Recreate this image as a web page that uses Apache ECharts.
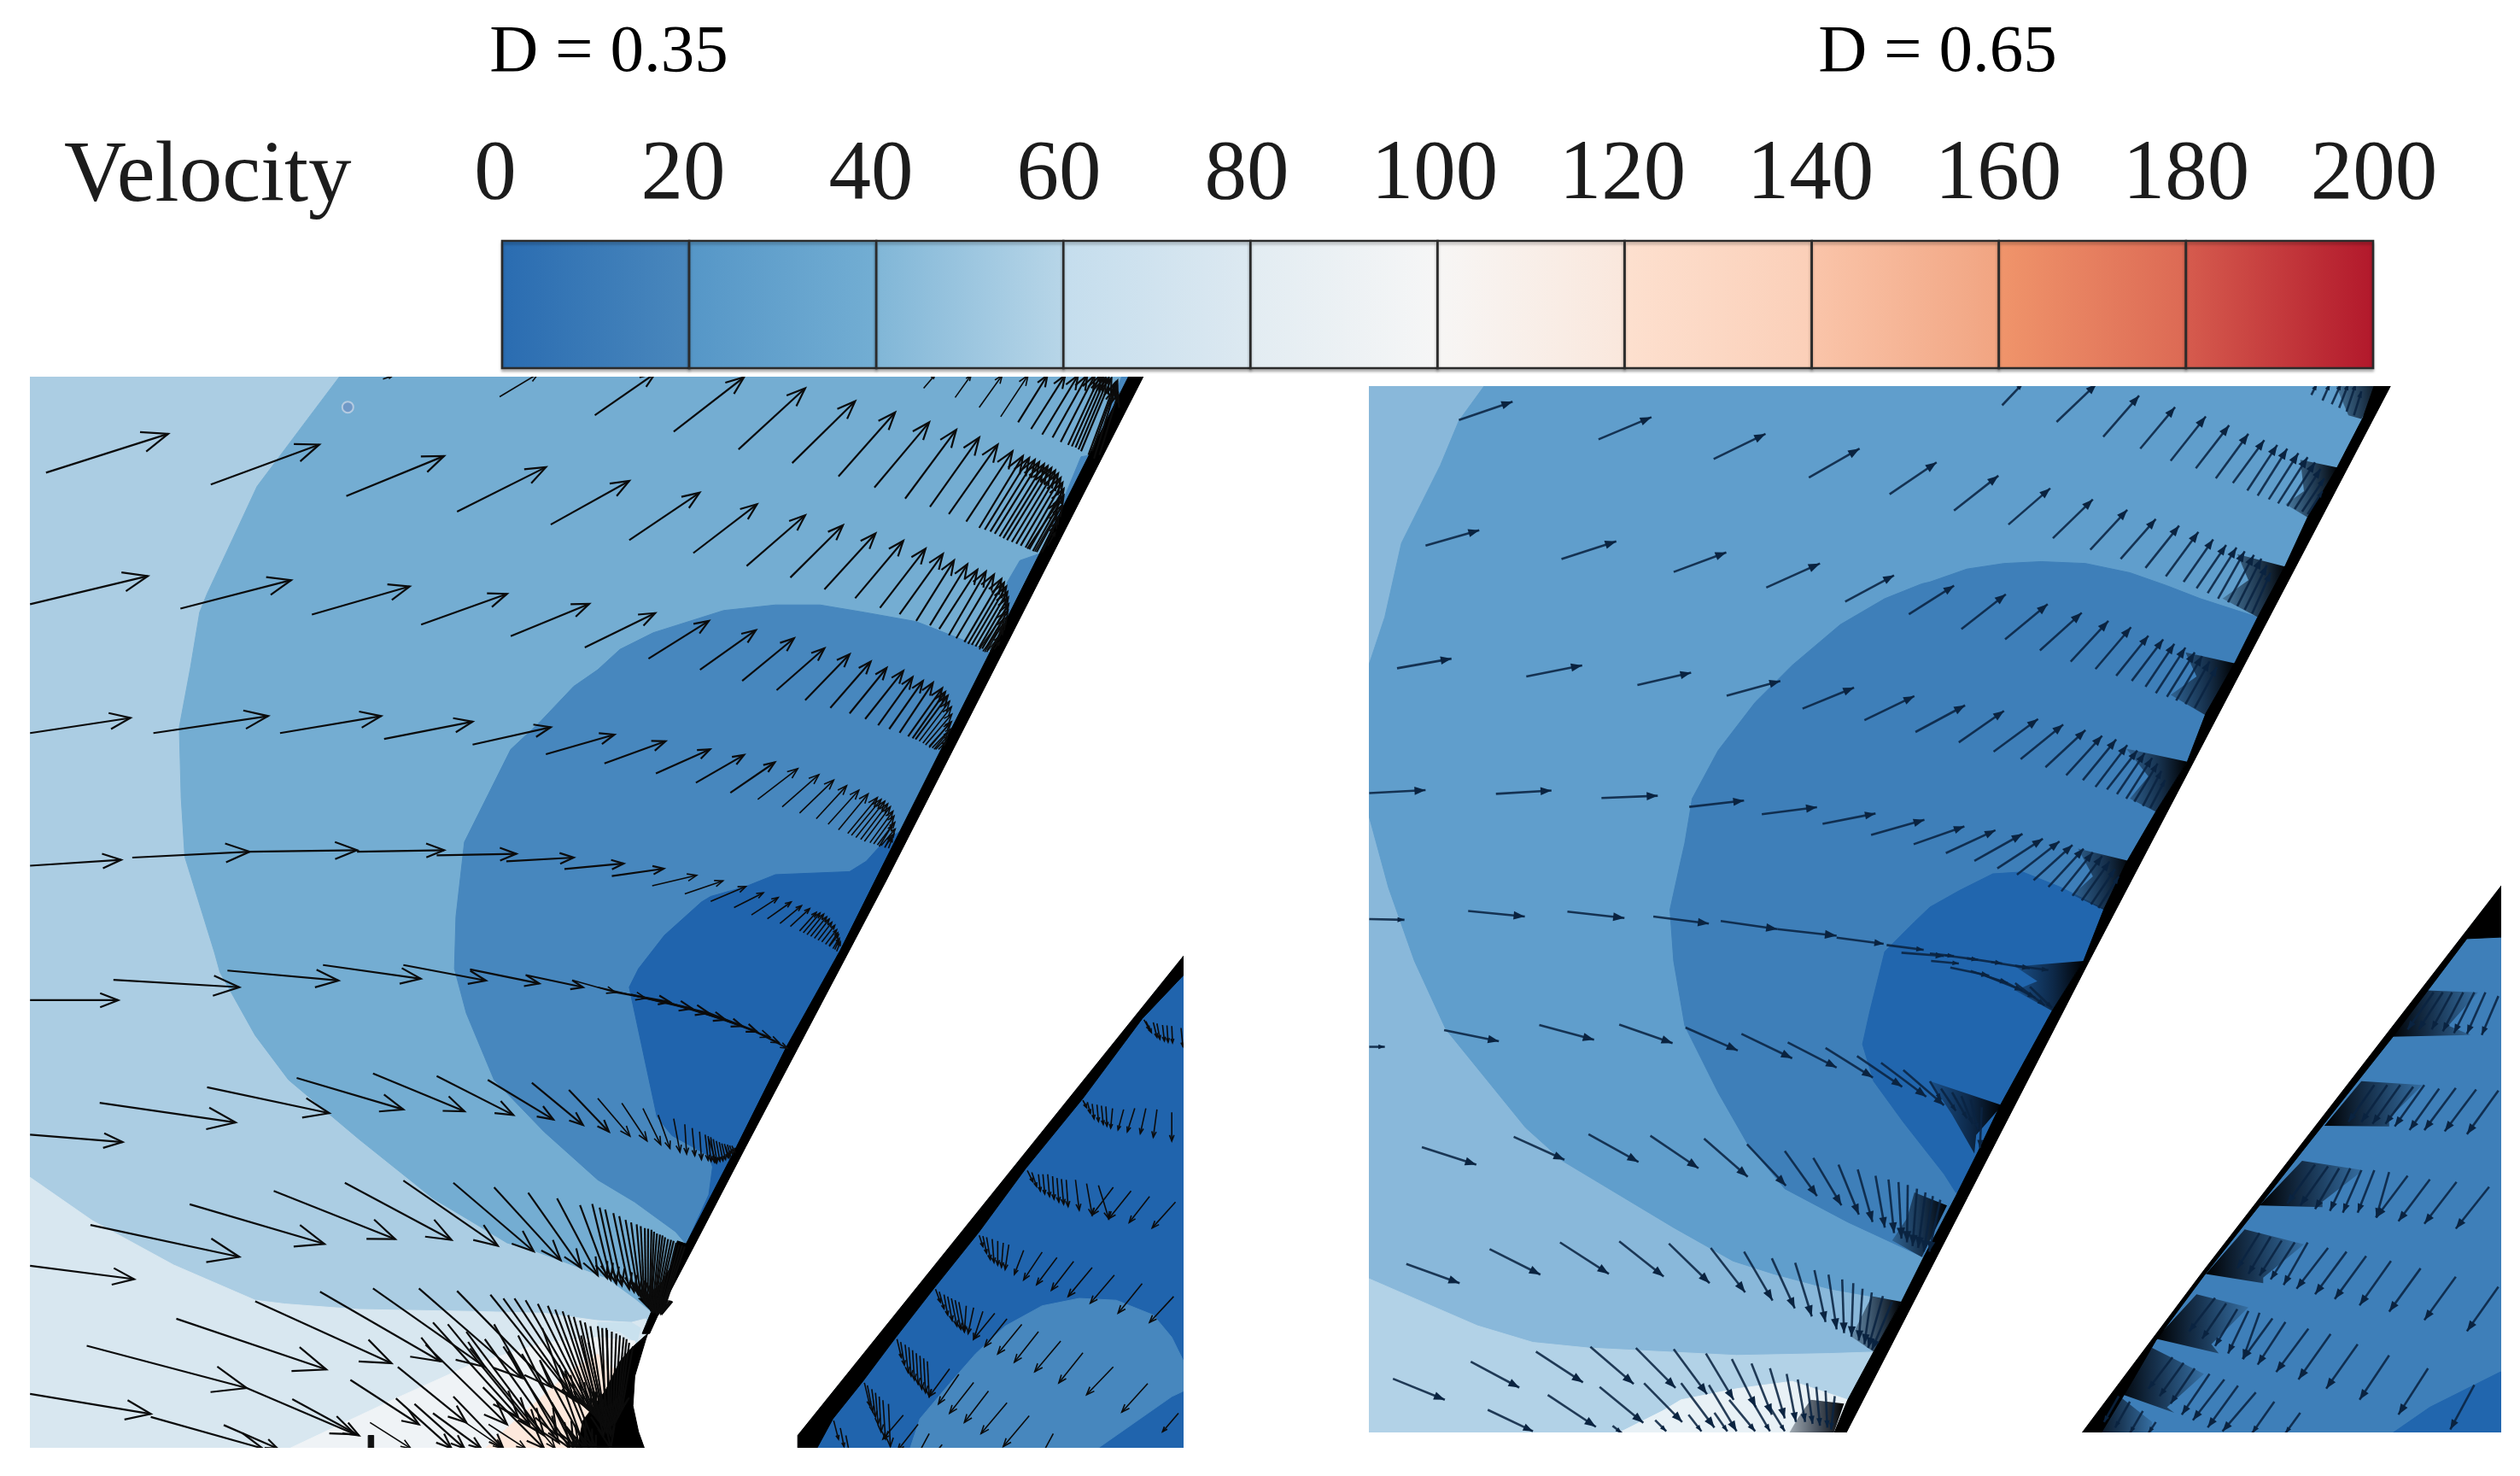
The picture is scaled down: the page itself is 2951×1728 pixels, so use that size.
<!DOCTYPE html>
<html><head><meta charset="utf-8">
<style>html,body{margin:0;padding:0;background:#fff}#c{width:2951px;height:1728px}</style>
<script src="https://cdn.jsdelivr.net/npm/echarts@6/dist/echarts.min.js"></script>
</head><body><div id="c"></div>
<script>
// ---------- colour bar values ----------
const barEdges=[0,20,40,60,80,100,120,140,160,180,200];
const barFrom=['#2a6cb1','#5596c7','#80b6d7','#c4dded','#e2ecf2','#f7f6f5','#fde0cf','#fac5aa','#f0956b','#d65c4e'];
const barTo  =['#4a88bd','#73aed3','#b8d6e8','#dde9f1','#f6f6f6','#fae7dc','#fbcfb8','#f1a481','#dc6954','#b2182b'];
const tickLabels=['0','20','40','60','80','100','120','140','160','180','200'];
const panelTitles=['D = 0.35','D = 0.65'];
const legendTitle='Velocity';
const U=680/1568;
const LA=[30,435],LB=[700,435],LC=[30,1030],LD=[700,1030];
const RA=[1600,445],RB=[2260,445],RC=[1600,1010],RD=[2260,1010];
const P=(o,l)=>l.map(p=>[o[0]+p[0]*U,o[1]+p[1]*U]);
const V=(o,l)=>l.map(a=>[o[0]+a[0]*U,o[1]+a[1]*U,o[0]+a[2]*U,o[1]+a[3]*U]);
// ---------- left panel velocity bands ----------
const lBand2=[...P(LA,[[858,0],[760,130],[625,310],[560,450],[490,600],[470,650],[445,800],[415,960],[420,1150],[430,1310],[510,1568]]),
 ...P(LC,[[525,250],[620,420],[710,540],[900,700],[1100,860],[1300,980],[1370,1000]]),
 ...P(LD,[[25,1075],[100,1130],[150,1170],[900,1170]]),...P(LB,[[1600,0]])];
const lBand3=[...P(LB,[[0,805],[60,750],[150,705],[340,645],[480,630],[600,630],[720,650],[860,675],[1000,730],[1062,760],[1200,760]]),
 ...P(LD,[[300,985],[240,985],[210,950],[100,870],[0,810]]),
 ...P(LC,[[1400,680],[1265,540],[1190,360],[1158,240],[1162,100]]),
 ...P(LA,[[1185,1270],[1250,1140],[1310,1020],[1385,950],[1480,850],[1545,805]])];
const lStrip=P(LB,[[1420,0],[1335,225],[1305,230],[1198,490],[1140,510],[1105,570],[1100,670],[1062,760],[1200,760],[1500,0]]);
const lBand4=[...P(LD,[[85,290],[110,240],[180,150],[280,60],[305,45],[400,18],[480,-14],[680,-22],[725,-50],[770,-100],[815,-130],[920,-130],[960,-372],[1000,-372]]),
 ...P(LD,[[1000,-372],[300,985],[245,970],[300,850],[310,775],[300,745],[200,690],[160,640]])];
const lBand1=[...P(LC,[[0,795],[180,920],[400,1040],[620,1135],[700,1145],[900,1160],[1200,1165],[1400,1170]]),
 ...P(LD,[[0,1190],[90,1195],[130,1185],[130,1560]]),...P(LC,[[0,1560]])];
const lSky=P(LD,[[0,1195],[90,1195],[115,1210],[105,1250],[60,1220],[0,1210]]);
const lBand0=[...P(LC,[[660,1560],[830,1480],[1000,1400],[1200,1310],[1400,1250]]),...P(LD,[[0,1235],[100,1245],[130,1560]])];
const lPeach=[...P(LC,[[1215,1560],[1300,1480],[1400,1390],[1480,1320]]),...P(LD,[[0,1280],[130,1400],[130,1560]])];
const lLowerBase=P(LD,[[1700,0],[1700,1600],[400,1600]]);
const lPatch=P(LD,[[835,1560],[870,1455],[950,1360],[1020,1280],[1100,1205],[1200,1150],[1300,1130],[1400,1135],[1500,1175],[1550,1235],[1582,1300],[1582,1380],[1550,1395],[1350,1535],[1310,1560]]);
const lSlot=[...P(LB,[[1485,-20],[1700,-20]]),...P(LD,[[1700,80],[1582,205],[540,1500],[540,1560],[135,1560],[110,1490],[95,1420],[100,1340],[130,1240],[165,1170],[262,985],[400,720],[540,455],[780,0]])];
const lWallUp=[...P(LB,[[1440,0],[1480,0]]),...P(LD,[[780,0],[540,455],[400,720],[262,985],[165,1170],[140,1225],[120,1225],[145,1165],[240,980],[375,720],[510,450],[655,190],[750,0]])];
const lWallLow=P(LD,[[1600,183],[1600,238],[1470,375],[1310,590],[1155,780],[1030,950],[910,1100],[805,1235],[715,1355],[635,1455],[578,1560],[540,1560],[540,1500]]);
const lFanBlack=P(LD,[[245,985],[215,975],[200,1040],[170,1090],[130,1130],[110,1130],[145,1165],[165,1165]]);
const lNose=P(LD,[[135,1225],[90,1265],[60,1300],[20,1380],[-40,1460],[-60,1560],[135,1560],[110,1490],[95,1420],[100,1340],[130,1240]]);
const lChip=P(LC,[[925,1500],[940,1500],[940,1560],[925,1560]]);
const lMark=[P(LA,[[870,96]])[0]];
// ---------- left panel vectors (tail x, tail y, head x, head y) ----------
const lRow0=V(LA,[[965,20,990,12],[1280,68,1385,5],[1537,118,1700,5]]);
const lRow1=V(LB,[[880,45,910,10],[965,70,1008,10],[1030,97,1092,10],[1088,122,1162,10],[1135,137,1214,10],[1170,155,1262,10],[1200,170,1297,10],[1228,178,1322,10],[1250,190,1342,10],[1270,198,1357,10],[1290,205,1372,15],[1305,215,1387,18],[1325,225,1397,30],[1335,215,1403,25],[1340,235,1400,40],[1355,225,1405,60],[1280,202,1365,12],[1298,210,1380,16],
 [205,162,395,15],[380,210,560,45],[525,247,695,80],[650,283,803,110],[747,313,895,137],[830,343,968,157],[897,365,1030,178],[948,385,1080,197],[995,405,1120,215],[1030,422,1148,228],[1060,432,1180,238],[1085,445,1205,250],[1105,455,1225,260],[1130,465,1243,275],[1155,475,1255,300],[1175,485,1258,335],[1195,490,1245,390],[1205,480,1230,420],
 [1045,427,1165,233],[1072,438,1192,244],[1095,450,1215,255],[1118,460,1235,267],[1142,470,1250,287],[1165,480,1258,317],[1185,487,1253,362],[1200,488,1240,405],[1215,470,1235,435],[1160,478,1245,350],[1180,486,1240,380]]);
const lRow2a=V(LA,[[55,273,385,168],[500,305,793,197],[866,336,1130,228],[1165,378,1405,258],[1418,413,1630,295]]);
const lRow2b=V(LB,[[85,455,275,327],[258,490,430,358],[402,525,560,388],[520,556,662,415],[612,588,750,437],[695,612,825,457],[762,638,885,478],[815,655,932,492],[860,673,962,510],[897,685,998,520],[922,695,1025,535],[948,712,1048,540],[968,720,1070,548],[990,730,1090,560],[1010,738,1103,580],[1030,745,1108,610],[1045,750,1108,645],[1060,755,1100,680],[1065,745,1085,715],
 [1000,735,1097,570],[1020,742,1106,595],[1038,748,1109,628],[1052,752,1105,662],[1062,752,1095,698],[1040,755,1090,690],[1050,757,1080,720],[1070,750,1085,730],[1030,750,1100,650],[1045,757,1095,670]]);
const lRow3a=V(LA,[[12,628,330,552],[418,640,717,563],[773,656,1037,580],[1068,683,1300,600],[1310,714,1522,627]]);
const lRow3b=V(LB,[[-35,745,155,652],[137,775,300,673],[276,805,427,698],[390,835,530,720],[483,860,612,747],[560,887,680,763],[628,908,737,783],[680,923,780,800],[722,938,825,808],[757,955,850,825],[787,965,878,835],[815,975,905,840],[838,985,930,855],[858,993,945,875],[878,1003,955,905],[895,1012,955,945],[912,1020,945,985],
 [868,998,950,890],[885,1008,956,925],[903,1016,952,965],[920,1020,940,1000],[850,990,938,865],[895,1015,950,950],[908,1020,945,975]]);
const lRow4a=V(LA,[[12,976,283,935],[345,976,655,930],[687,976,960,930],[968,992,1207,945],[1207,1007,1418,960]]);
const lRow4b=V(LB,[[-140,1033,45,980],[18,1058,183,998],[157,1085,303,1020],[265,1110,395,1035],[358,1137,478,1055],[432,1155,540,1072],[498,1175,597,1088],[545,1192,637,1103],[590,1207,672,1118],[622,1222,705,1130],[650,1237,730,1140],[675,1247,755,1150],[697,1258,775,1160],[720,1268,790,1175],[745,1275,800,1200],[765,1280,803,1235],[785,1287,795,1260],
 [735,1272,797,1187],[755,1278,802,1217],[775,1284,800,1248],[710,1263,783,1167],[685,1252,765,1155],[760,1282,795,1225],[775,1285,790,1255]]);
const lRow5a=V(LA,[[12,1334,258,1318],[288,1312,605,1296],[605,1296,895,1292],[895,1296,1130,1292],[1110,1306,1325,1302],[1298,1322,1480,1312]]);
const lRow5b=V(LB,[[-90,1343,70,1328],[38,1362,178,1342],[147,1388,267,1360],[235,1410,338,1375],[305,1430,400,1390],[368,1447,447,1407],[415,1467,487,1420],[458,1477,522,1432],[492,1490,550,1442],[520,1498,572,1450],[545,1510,590,1460],[565,1520,610,1465],[585,1530,625,1478],[605,1540,640,1495],[625,1552,650,1520],[645,1565,655,1540],
 [595,1535,632,1487],[615,1546,645,1507],[635,1558,652,1530],[575,1525,618,1472],[555,1515,600,1462],[625,1550,648,1515],[640,1560,652,1535]]);
const lRow6a=V(LC,[[12,325,250,325],[237,270,577,290],[545,245,845,272],[803,230,1067,267],[1020,230,1243,272],[1200,242,1387,280],[1350,257,1505,290]]);
const lRow6b=V(LD,[[-65,272,48,304],[0,290,130,320],[45,303,195,330],[90,310,255,348],[130,320,300,360],[195,333,345,378],[255,350,390,395],[300,360,430,410],[345,380,465,425],[390,395,490,440],[430,412,512,455]]);
const lRow7a=V(LC,[[12,688,262,708],[200,602,567,655],[490,560,820,630],[732,535,1020,620],[938,523,1185,625],[1110,530,1317,635],[1248,540,1425,647],[1367,548,1505,662],[1467,567,1575,680]]);
const lRow7b=V(LD,[[0,590,87,692],[65,603,133,705],[122,617,170,715],[163,635,195,725],[205,645,222,735],[235,660,240,740],[255,670,262,745],[275,680,280,755],[290,688,298,757],[305,695,315,762],[320,705,330,760],[335,712,345,755],[350,715,358,745],[362,718,370,735],
 [298,692,306,760],[312,700,322,762],[328,708,338,758],[342,713,352,750],[356,717,364,740],[300,700,320,765],[345,720,355,750]]);
const lRow8a=V(LC,[[12,1042,293,1078],[175,932,577,1018],[443,876,807,983],[670,840,998,970],[862,818,1150,972],[1020,812,1275,988],[1155,818,1372,1003],[1265,830,1445,1027],[1357,845,1500,1048],[1435,860,1545,1068],[1497,878,1570,1075],[1530,875,1580,1080]]);
const lRow8b=V(LD,[[5,885,50,1090],[42,900,85,1105],[75,918,110,1120],[105,930,122,1130],[127,940,130,1145],[145,945,140,1150],[160,955,143,1160],[175,960,150,1165],[190,970,155,1165],[205,975,160,1170],[220,985,170,1170],[235,990,175,1170],
 [20,890,65,1095],[58,908,98,1112],[90,925,116,1125],[116,935,126,1138],[136,942,135,1148],[152,950,142,1155],[168,958,147,1162],[182,965,152,1165],[198,972,158,1168],[212,980,165,1170],[228,987,172,1170]]);
const lRow9=V(LC,[[12,1388,338,1442],[165,1258,597,1372],[407,1185,812,1322],[620,1138,988,1305],[795,1112,1120,1300],[938,1103,1240,1315],[1062,1103,1340,1345],[1165,1110,1420,1370],[1255,1120,1480,1400],[1320,1130,1510,1420],[1383,1145,1530,1440],[1430,1160,1540,1450],[1465,1175,1555,1470],[1497,1190,1565,1480],[1525,1205,1570,1490],[1545,1205,1575,1490],[1568,1210,1580,1500],
 [1290,1130,1490,1410],[1350,1135,1520,1430],[1410,1150,1535,1445],[1450,1165,1548,1460],[1480,1180,1560,1475],[1510,1195,1568,1485]]);
const lRow9b=V(LD,[[25,1215,30,1480],[50,1225,40,1470],[70,1235,50,1460],[85,1250,60,1440],[12,1210,22,1490],[38,1220,35,1475],[60,1230,45,1465],[78,1240,55,1450],[95,1260,65,1430]]);
const lRow10=V(LC,[[338,1450,640,1535],[597,1372,890,1497],[535,1472,680,1535],[720,1402,900,1500],[877,1350,1062,1470],[930,1465,1040,1535],[1005,1315,1190,1465],[1050,1415,1185,1535],[1155,1395,1290,1535],[1080,1255,1300,1470],[1200,1265,1385,1490],[1235,1370,1400,1535],[1265,1200,1435,1500],[1330,1230,1480,1535],[1395,1210,1510,1535],
 [1100,1195,1330,1450],[1140,1200,1360,1470],[1190,1220,1400,1500],[1240,1240,1440,1520],[1290,1260,1470,1535],[1340,1280,1495,1535],[1390,1300,1515,1535],[1440,1310,1530,1535],[1000,1400,1150,1535],[1100,1440,1230,1535],[1180,1460,1290,1535],[1250,1470,1350,1535],[1350,1440,1430,1535],[1420,1410,1490,1535],[1480,1380,1540,1535],[1520,1250,1580,1535],[1500,1230,1560,1500]]);
const lLow1=V(LD,[[1475,378,1490,405],[1500,385,1510,425],[1525,392,1530,435],[1550,395,1552,440],[1575,400,1580,450],[1480,382,1495,412],[1510,388,1518,430],[1537,393,1540,438]]);
const lLow2=V(LD,[[1310,595,1320,615],[1335,605,1340,645],[1360,610,1365,660],[1390,617,1385,670],[1420,620,1405,675],[1450,617,1430,680],[1480,617,1465,685],[1510,620,1500,695],[1550,628,1550,705],[1322,600,1330,630],[1348,607,1352,652],[1372,612,1375,665]]);
const lLow3=V(LD,[[1160,785,1175,815],[1190,795,1195,840],[1215,795,1220,855],[1240,805,1245,870],[1265,810,1270,882],[1290,810,1300,892],[1320,820,1335,905],[1352,825,1380,915],[1392,830,1335,905],[1440,840,1380,915],[1490,855,1435,925],[1560,870,1497,940],[1172,790,1185,828],[1202,795,1207,848],[1228,800,1232,862],[1252,808,1258,876]]);
const lLow4=V(LD,[[1030,960,1040,990],[1050,965,1060,1025],[1080,975,1080,1040],[1110,985,1100,1052],[1150,1000,1125,1065],[1200,1005,1150,1080],[1240,1020,1185,1093],[1285,1030,1225,1108],[1335,1047,1270,1125],[1395,1067,1330,1143],[1470,1090,1405,1170],[1555,1125,1490,1195],[1040,962,1050,1008],[1065,970,1070,1033],[1095,980,1090,1046]]);
const lLow5=V(LD,[[912,1105,925,1140],[935,1120,945,1175],[955,1130,970,1205],[975,1140,990,1220],[1072,1170,1015,1240],[1105,1185,1045,1260],[1145,1200,1080,1280],[1190,1220,1125,1302],[1250,1245,1180,1328],[1310,1277,1245,1358],[1392,1315,1320,1390],[1485,1360,1415,1437],[995,1150,990,1220],[1015,1155,1000,1225],[1040,1165,1015,1240],[922,1112,935,1158],[945,1125,957,1190],[965,1135,980,1213]]);
const lLow6=V(LD,[[808,1240,820,1290],[830,1255,838,1330],[850,1270,855,1350],[870,1285,875,1375],[890,1300,895,1395],[950,1320,895,1395],[975,1335,920,1415],[1015,1357,950,1440],[1055,1380,990,1465],[1105,1412,1035,1495],[1165,1447,1095,1530],[1230,1495,1195,1560],[1568,1440,1525,1490],[818,1248,828,1310],[840,1262,846,1340],[860,1278,865,1362],[880,1292,885,1385]]);
const lLow7=V(LD,[[720,1358,735,1420],[740,1375,750,1450],[760,1395,765,1490],[785,1415,790,1530],[825,1445,770,1510],[865,1470,810,1540],[895,1495,860,1560],[930,1525,900,1560],[637,1460,650,1510],[655,1480,665,1530],[670,1500,680,1550],[728,1365,742,1435],[750,1385,757,1470],[770,1405,777,1510]]);
const leftRegions=[
 {p:lBand2,c:'#74add2'},{p:lBand3,c:'#4787be'},{p:lStrip,c:'#4787be'},{p:lBand4,c:'#2064ad'},{p:lBand1,c:'#d8e7f0'},{p:lSky,c:'#c9e1ee'},{p:lBand0,c:'#eff3f6'},{p:lPeach,c:'#fde8dc'},
 {p:lLowerBase,c:'#2064ad'},{p:lPatch,c:'#4787be'},{p:lSlot,c:'#ffffff'},{p:lWallUp,c:'#000'},{p:lWallLow,c:'#000'},{p:lFanBlack,c:'#000'},{p:lNose,c:'#000'},{p:lChip,c:'#111'}];
const leftArrows=[...lRow0,...lRow1,...lRow2a,...lRow2b,...lRow3a,...lRow3b,...lRow4a,...lRow4b,...lRow5a,...lRow5b,...lRow6a,...lRow6b,...lRow7a,...lRow7b,...lRow8a,...lRow8b,...lRow9,...lRow9b,...lRow10,...lLow1,...lLow2,...lLow3,...lLow4,...lLow5,...lLow6,...lLow7];
// ---------- right panel velocity bands ----------
const rBand2=[...P(RA,[[330,0],[250,110],[200,230],[95,440],[50,640],[0,790],[0,1150],[60,1370],[130,1568]]),
 ...P(RC,[[215,450],[430,715],[530,805],[830,985],[990,1075],[1100,1110],[1250,1150],[1445,1185],[1700,1185]]),...P(RB,[[1400,0]])];
const rBand1=[...P(RC,[[0,1120],[150,1185],[300,1250],[450,1295],[600,1310],[800,1320],[1000,1330],[1250,1325],[1400,1320],[1400,1560],[0,1560]])];
const rBand0=P(RC,[[640,1560],[800,1480],[850,1450],[1000,1420],[1150,1400],[1300,1450],[1300,1560]]);
const rBand3=[...P(RB,[[0,545],[100,510],[200,495],[300,490],[420,495],[540,520],[640,555],[730,590],[885,640],[1000,640]]),
 ...P(RC,[[1700,1090],[1505,1065],[1300,970],[1130,880],[1030,760],[950,620],[860,440],[830,265],[820,127],[848,0]]),
 ...P(RA,[[860,1250],[880,1130],[950,1000],[1050,870],[1150,770],[1280,660],[1400,590],[1500,550]])];
const rBand4=[...P(RD,[[0,120],[80,75],[170,30],[250,25],[350,65],[470,125],[560,125],[160,900],[70,890],[38,840]]),
 ...P(RC,[[1450,700],[1370,590],[1340,490],[1360,400],[1400,240],[1480,160]])];
const rLowerBase=P(RD,[[1700,-100],[1700,1600],[300,1600]]);
const rPatch=P(RD,[[1220,1560],[1350,1470],[1540,1375],[1700,1375],[1700,1560]]);
const rSlot=[...P(RB,[[1260,-20],[1700,-20]]),...P(RD,[[1700,-100],[1550,52],[1130,596],[880,919],[740,1100],[400,1560]]),...P(RC,[[1285,1560],[1522,1085]]),...P(RB,[[430,1568]])];
const rWallUp=[...P(RB,[[1205,0],[1252,0],[430,1568]]),...P(RC,[[1285,1560],[1255,1560],[1300,1450],[1370,1320],[1445,1185],[1505,1065]]),...P(RD,[[70,900],[130,780],[190,655],[330,400],[415,265],[470,125],[530,0]]),...P(RB,[[610,1165],[695,1030],[745,900],[825,760],[885,640],[960,500],[1020,370],[1100,235],[1170,100]])];
const rWallLow=P(RD,[[1560,40],[1560,200],[1450,205],[1250,470],[1060,710],[890,925],[740,1115],[610,1290],[540,1410],[450,1560],[395,1560],[740,1100],[880,919],[1130,596]]);
const rFansUp=[
 P(RB,[[1090,0],[1230,0],[1165,105],[1130,95]]),P(RB,[[1000,215],[1105,237],[1022,372],[960,335],[1010,300]]),P(RB,[[830,470],[965,505],[885,640],[790,590],[860,540]]),
 P(RB,[[690,735],[825,765],[745,905],[650,850],[720,800]]),P(RB,[[530,995],[695,1030],[610,1165],[540,1130],[590,1070]]),P(RB,[[400,1265],[545,1300],[470,1430],[385,1390],[440,1340]]),
 P(RD,[[230,280],[415,265],[330,400],[230,345],[290,320]]),P(RD,[[0,590],[195,655],[125,735],[120,785],[60,680]]),
 P(RC,[[1480,890],[1568,925],[1500,1065],[1420,1020],[1460,960]]),P(RC,[[1365,1170],[1445,1185],[1370,1320],[1310,1280],[1340,1220]]),P(RC,[[1200,1450],[1290,1460],[1255,1560],[1130,1560],[1165,1500]])];
const rFansLow=[
 P(RD,[[1340,345],[1480,350],[1400,440],[1460,465],[1245,470]]),P(RD,[[1165,590],[1330,600],[1240,690],[1240,712],[1065,710]]),P(RD,[[1005,805],[1170,830],[1060,915],[1060,930],[890,925]]),
 P(RD,[[850,990],[1010,1030],[900,1120],[900,1135],[745,1110]]),P(RD,[[720,1165],[860,1200],[760,1300],[780,1325],[610,1285]]),P(RD,[[600,1310],[740,1380],[640,1470],[660,1485],[505,1430]]),P(RD,[[505,1435],[600,1510],[600,1560],[425,1560]])];
// ---------- right panel vectors ----------
const rRow0=V(RB,[[195,68,250,10],[342,113,450,10],[468,153,565,42],[568,185,662,73],[650,218,745,98],[718,238,808,122],[772,265,860,145],[818,278,903,162],[857,298,938,175],[885,312,965,185],[915,322,995,197],[940,333,1020,208],[965,340,1040,222],[985,348,1055,240],[1005,355,1065,265],[1020,362,1060,300],
 [1030,40,1045,10],[1060,55,1080,10],[1085,65,1110,10],[1105,75,1130,10],[1125,85,1150,10],[1145,95,1165,30]]);
const rRow1a=V(RA,[[250,108,395,58],[627,160,770,100],[938,213,1078,145],[1195,263,1332,185],[1413,308,1540,222]]);
const rRow1b=V(RB,[[65,352,185,258],[212,390,325,292],[332,427,440,322],[433,458,533,350],[515,483,610,375],[582,507,673,393],[637,530,725,410],[685,545,765,430],[720,562,800,445],[750,575,828,452],[778,590,850,462],[805,600,875,472],[830,610,895,482],[850,620,910,500],[870,630,920,520]]);
const rRow2a=V(RA,[[160,447,305,405],[527,483,675,435],[830,518,972,465],[1080,560,1225,495],[1293,598,1425,527],[1465,632,1587,555]]);
const rRow2b=V(RB,[[85,672,205,578],[203,700,318,605],[297,730,410,628],[380,760,482,650],[447,780,543,667],[503,798,590,690],[545,812,630,700],[582,828,660,712],[610,845,690,722],[640,855,715,735],[665,865,735,745],[690,875,755,760],[715,885,775,775]]);
const rRow3a=V(RA,[[83,778,230,752],[432,800,583,770],[732,823,877,790],[973,852,1118,812],[1178,887,1317,830],[1345,918,1480,853]]);
const rRow3b=V(RB,[[-39,950,95,878],[78,978,200,893],[172,1003,292,915],[245,1023,360,930],[312,1045,420,945],[368,1067,465,960],[413,1080,503,970],[447,1098,533,985],[478,1105,560,1000],[505,1118,580,1007],[530,1130,600,1020],[552,1138,615,1035],[575,1150,625,1055],[595,1155,635,1080]]);
const rRow4a=V(RA,[[8,1115,160,1107],[350,1117,500,1108],[635,1128,787,1122],[872,1152,1020,1135],[1068,1172,1217,1153],[1232,1198,1375,1170],[1363,1228,1507,1187],[1478,1253,1615,1205]]);
const rRow4b=V(RB,[[43,1277,177,1215],[120,1298,250,1225],[182,1318,305,1238],[235,1335,350,1245],[280,1350,385,1255],[320,1368,415,1265],[355,1380,440,1275],[385,1392,465,1285],[410,1405,485,1300],[435,1415,500,1320],[455,1425,510,1340]]);
const rRow5a=V(RA,[[8,1455,103,1457],[275,1433,428,1448],[543,1435,697,1452],[775,1448,925,1467],[957,1460,1110,1482],[1110,1482,1270,1500],[1270,1505,1397,1522],[1405,1525,1505,1538]]);
const rRow5b=V(RD,[[0,245,65,252],[40,250,130,262],[100,258,195,272],[165,268,270,285],[230,278,320,290],[55,283,160,305],[110,292,210,325],[150,305,250,345],[190,315,285,365],[230,325,310,385],[270,335,330,392]]);
const rRow5c=V(RC,[[1445,243,1560,252],[1525,265,1600,272]]);
const rRow6a=V(RC,[[8,497,50,497],[210,452,358,482],[467,438,615,478],[683,437,827,487],[862,445,1003,507],[1013,462,1150,528],[1138,485,1270,553],[1240,500,1368,580],[1325,522,1447,605],[1390,540,1512,632],[1450,560,1560,655]]);
const rRow6b=V(RD,[[0,590,30,640],[30,610,70,670],[60,620,100,690],[85,630,115,705],[110,640,130,720],[140,660,135,770]]);
const rRow7=V(RC,[[150,768,297,815],[398,740,535,802],[600,733,735,808],[767,737,897,825],[912,745,1030,848],[1028,760,1133,872],[1130,778,1217,900],[1207,797,1283,925],[1275,815,1330,950],[1327,828,1367,970],[1375,845,1400,985],[1410,855,1425,1000],[1437,862,1445,1015],[1462,870,1460,1025],[1487,880,1475,1035],[1510,890,1490,1040],[1530,900,1505,1050],[1550,910,1520,1050]]);
const rRow8=V(RC,[[108,1083,252,1135],[333,1043,470,1112],[523,1025,655,1110],[683,1022,803,1117],[817,1028,927,1135],[930,1040,1023,1160],[1020,1050,1097,1182],[1095,1068,1157,1203],[1158,1080,1203,1225],[1210,1100,1240,1240],[1248,1112,1270,1260],[1285,1125,1290,1270],[1315,1135,1310,1280],[1340,1150,1330,1290],[1365,1160,1345,1300],[1395,1170,1355,1310],[1420,1185,1365,1315]]);
const rRow9=V(RC,[[72,1393,212,1450],[282,1347,413,1417],[458,1320,585,1403],[605,1307,722,1407],[728,1310,835,1418],[830,1313,920,1435],[917,1325,992,1450],[987,1340,1052,1470],[1040,1352,1095,1490],[1090,1365,1130,1500],[1135,1380,1160,1510],[1165,1395,1185,1510],[1190,1405,1205,1515],[1215,1415,1225,1520],[1240,1425,1245,1525],[1265,1440,1255,1530]]);
const rRow10=V(RC,[[328,1477,450,1535],[490,1437,620,1523],[630,1415,748,1512],[750,1405,853,1510],[850,1405,940,1525],[925,1410,1000,1535],[980,1450,1050,1535],[1040,1450,1090,1535],[1090,1470,1130,1535],[780,1505,810,1535],[870,1490,905,1535],[665,1520,690,1540],[940,1485,975,1535]]);
const rLow1=V(RD,[[1360,350,1290,450],[1385,350,1320,450],[1410,350,1355,450],[1440,350,1385,455],[1470,350,1415,460],[1500,350,1450,462],[1535,360,1490,465]]);
const rLow2=V(RD,[[1200,600,1130,700],[1235,600,1165,700],[1270,600,1195,705],[1305,605,1230,705],[1335,600,1255,712],[1375,610,1295,722],[1420,608,1335,722],[1475,612,1390,725],[1535,615,1450,733]]);
const rLow3=V(RD,[[1040,815,965,920],[1075,820,1000,925],[1105,825,1040,935],[1135,825,1080,940],[1165,830,1115,945],[1200,830,1155,945],[1240,835,1205,958],[1290,845,1205,958],[1350,855,1265,968],[1422,862,1335,975],[1510,875,1420,988]]);
const rLow4=V(RD,[[890,1000,830,1095],[920,1010,860,1110],[950,1020,890,1115],[985,1025,920,1125],[1020,1025,955,1140],[1075,1040,990,1150],[1125,1050,1040,1165],[1178,1062,1093,1178],[1245,1075,1160,1195],[1325,1095,1240,1212],[1420,1118,1335,1235],[1535,1145,1450,1265]]);
const rLow5=V(RD,[[770,1175,700,1265],[800,1190,735,1285],[830,1205,770,1305],[860,1210,805,1325],[890,1215,845,1340],[925,1230,845,1340],[960,1240,885,1355],[1022,1258,935,1375],[1082,1272,995,1395],[1155,1300,1070,1420],[1240,1330,1160,1450],[1345,1365,1265,1490],[1470,1410,1405,1530]]);
const rLow6=V(RD,[[655,1335,590,1420],[685,1350,620,1440],[715,1365,650,1460],[755,1380,680,1490],[795,1395,710,1505],[832,1412,750,1525],[880,1430,790,1535],[930,1455,870,1540],[1000,1485,960,1540]]);
const rLow7=V(RD,[[510,1440,470,1510],[540,1455,500,1525],[575,1480,540,1540],[610,1510,590,1540]]);
const rightRegions=[{p:rBand2,c:'#609ecc'},{p:rBand1,c:'#b2d2e7'},{p:rBand0,c:'#e8f1f6'},{p:rBand3,c:'#3e7fb9'},{p:rBand4,c:'#2166ae'},{p:rLowerBase,c:'#3e7fb9'},{p:rPatch,c:'#2166ae'},{p:rSlot,c:'#ffffff'}];
const rightTop=[{p:rWallUp,c:'#000'},{p:rWallLow,c:'#000'}];
const rightArrows=[...rRow0,...rRow1a,...rRow1b,...rRow2a,...rRow2b,...rRow3a,...rRow3b,...rRow4a,...rRow4b,...rRow5a,...rRow5b,...rRow5c,...rRow6a,...rRow6b,...rRow7,...rRow8,...rRow9,...rRow10,...rLow1,...rLow2,...rLow3,...rLow4,...rLow5,...rLow6,...rLow7];

// ---------- drawing ----------
const chart=echarts.init(document.getElementById('c'),null,{renderer:'canvas'});
const polygonItem=(list)=>(params,api)=>{
  const r=list[api.value(0)];
  return {type:'polygon',shape:{points:r.p.map(q=>api.coord(q))},style:{fill:r.c,stroke:r.c,lineWidth:1}};
};
const regionSeries=(list,x,z)=>({type:'custom',xAxisIndex:x,yAxisIndex:x,clip:true,silent:true,z,
  data:list.map((r,i)=>[i,0]),encode:{x:-1,y:-1},renderItem:polygonItem(list)});
function openArrow(params,api){
  const a=api.coord([api.value(0),api.value(1)]),b=api.coord([api.value(2),api.value(3)]);
  const dx=b[0]-a[0],dy=b[1]-a[1],L=Math.hypot(dx,dy),h=Math.max(5,L*0.22),t=Math.atan2(dy,dx),w=0.37;
  const c1=[b[0]-h*Math.cos(t-w),b[1]-h*Math.sin(t-w)],c2=[b[0]-h*Math.cos(t+w),b[1]-h*Math.sin(t+w)];
  const s={stroke:'#0b0b0b',lineWidth:L>60?2.2:1.6,fill:null};
  return {type:'group',children:[{type:'line',shape:{x1:a[0],y1:a[1],x2:b[0],y2:b[1]},style:s},{type:'polyline',shape:{points:[c1,b,c2]},style:s}]};
}
function solidArrow(params,api){
  const a=api.coord([api.value(0),api.value(1)]),b=api.coord([api.value(2),api.value(3)]);
  const dx=b[0]-a[0],dy=b[1]-a[1],L=Math.hypot(dx,dy),h=Math.max(8,L*0.21),t=Math.atan2(dy,dx),w=0.36;
  const c1=[b[0]-h*Math.cos(t-w),b[1]-h*Math.sin(t-w)],c2=[b[0]-h*Math.cos(t+w),b[1]-h*Math.sin(t+w)];
  return {type:'group',children:[
   {type:'line',shape:{x1:a[0],y1:a[1],x2:b[0],y2:b[1]},style:{stroke:'rgba(10,35,65,0.88)',lineWidth:2.6}},
   {type:'polygon',shape:{points:[c1,b,c2]},style:{fill:'#0a2340'}}]};
}
const arrowSeries=(list,x,fn,z)=>({type:'custom',xAxisIndex:x,yAxisIndex:x,clip:true,silent:true,z,data:list,encode:{x:[0,2],y:[1,3]},renderItem:fn});
const fanSeries=(list,x,g,z)=>({type:'custom',xAxisIndex:x,yAxisIndex:x,clip:true,silent:true,z,data:list.map((r,i)=>[i,0]),encode:{x:-1,y:-1},
  renderItem:(params,api)=>({type:'polygon',shape:{points:list[api.value(0)].map(q=>api.coord(q))},style:{fill:new echarts.graphic.LinearGradient(0,0,1,0,g)}})});
const toWall=[{offset:0,color:'rgba(5,15,30,0.25)'},{offset:0.55,color:'rgba(5,15,30,0.7)'},{offset:1,color:'#000'}];
const fromWall=[{offset:0,color:'#000'},{offset:0.45,color:'rgba(5,15,30,0.7)'},{offset:1,color:'rgba(5,15,30,0.15)'}];
const hidden={show:false};
const panelAxisX=(g,a,b)=>({type:'value',gridIndex:g,min:a,max:b,axisLine:hidden,axisTick:hidden,axisLabel:hidden,splitLine:hidden});
const panelAxisY=(g,a,b)=>({type:'value',gridIndex:g,inverse:true,min:a,max:b,axisLine:hidden,axisTick:hidden,axisLabel:hidden,splitLine:hidden});
const serif='"Liberation Serif","Times New Roman",serif';
chart.setOption({
 animation:false,backgroundColor:'#fff',
 title:[
  {text:panelTitles[0],left:708,top:18,textAlign:'center',textStyle:{fontFamily:serif,fontSize:79,fontWeight:'normal',color:'#000'}},
  {text:panelTitles[1],left:2264,top:18,textAlign:'center',textStyle:{fontFamily:serif,fontSize:79,fontWeight:'normal',color:'#000'}},
  {text:legendTitle,left:70,top:153,textStyle:{fontFamily:serif,fontSize:101,fontWeight:'normal',color:'#1c1c1c'}}],
 grid:[
  {left:588,top:282,width:2191,height:149},
  {left:580,top:282,width:2200,height:149},
  {left:35,top:441,width:1351,height:1254},
  {left:1603,top:452,width:1326,height:1225}],
 xAxis:[
  {type:'value',gridIndex:0,min:0,max:200,interval:20,axisLine:hidden,axisTick:hidden,axisLabel:hidden,splitLine:hidden},
  {type:'value',gridIndex:1,position:'top',min:0,max:200,interval:20,axisLine:hidden,axisTick:hidden,splitLine:hidden,
   axisLabel:{show:true,margin:27,hideOverlap:false,showMinLabel:true,showMaxLabel:true,fontFamily:serif,fontSize:99,color:'#1c1c1c',formatter:v=>tickLabels[barEdges.indexOf(v)]}},
  panelAxisX(2,35,1386),panelAxisX(3,1603,2929)],
 yAxis:[
  {type:'value',gridIndex:0,min:0,max:1,axisLine:hidden,axisTick:hidden,axisLabel:hidden,splitLine:hidden},
  {type:'value',gridIndex:1,min:0,max:1,axisLine:hidden,axisTick:hidden,axisLabel:hidden,splitLine:hidden},
  panelAxisY(2,441,1695),panelAxisY(3,452,1677)],
 series:[
  {type:'custom',xAxisIndex:0,yAxisIndex:0,silent:true,z:2,data:barFrom.map((c,i)=>[barEdges[i],barEdges[i+1],i]),encode:{x:[0,1],y:-1},
   renderItem:(params,api)=>{const i=api.value(2),a=api.coord([api.value(0),1]),b=api.coord([api.value(1),0]);
    return {type:'rect',shape:{x:a[0],y:a[1],width:b[0]-a[0],height:b[1]-a[1]},
     style:{fill:new echarts.graphic.LinearGradient(0,0,1,0,[{offset:0,color:barFrom[i]},{offset:1,color:barTo[i]}]),stroke:'#2b2b2b',lineWidth:2.6,shadowColor:'rgba(0,0,0,0.25)',shadowBlur:3,shadowOffsetY:3}};}},
  {type:'custom',xAxisIndex:1,yAxisIndex:1,silent:true,data:barEdges.map(v=>[v,0]),encode:{x:0,y:1},renderItem:()=>({type:'group',children:[]})},
  // left panel
  {type:'custom',xAxisIndex:2,yAxisIndex:2,silent:true,z:3,data:[[35,1695,1386,441]],encode:{x:[0,2],y:[1,3]},renderItem:(params,api)=>{const a=api.coord([api.value(0),api.value(3)]),b=api.coord([api.value(2),api.value(1)]);return {type:'rect',shape:{x:a[0],y:a[1],width:b[0]-a[0],height:b[1]-a[1]},style:{fill:'#abcde3'}};}},
  regionSeries(leftRegions,2,4),
  arrowSeries(leftArrows,2,openArrow,6),
  {type:'scatter',xAxisIndex:2,yAxisIndex:2,silent:true,z:7,data:lMark,symbol:'circle',symbolSize:13,itemStyle:{color:'#6f93c4',borderColor:'#c6d5e6',borderWidth:2}},
  // right panel
  {type:'custom',xAxisIndex:3,yAxisIndex:3,silent:true,z:3,data:[[1603,1677,2929,452]],encode:{x:[0,2],y:[1,3]},renderItem:(params,api)=>{const a=api.coord([api.value(0),api.value(3)]),b=api.coord([api.value(2),api.value(1)]);return {type:'rect',shape:{x:a[0],y:a[1],width:b[0]-a[0],height:b[1]-a[1]},style:{fill:'#89b8da'}};}},
  regionSeries(rightRegions,3,4),
  fanSeries(rFansUp,3,toWall,5),
  fanSeries(rFansLow,3,fromWall,5),
  regionSeries(rightTop,3,5.5),
  arrowSeries(rightArrows,3,solidArrow,6)
 ]
});
</script></body></html>
